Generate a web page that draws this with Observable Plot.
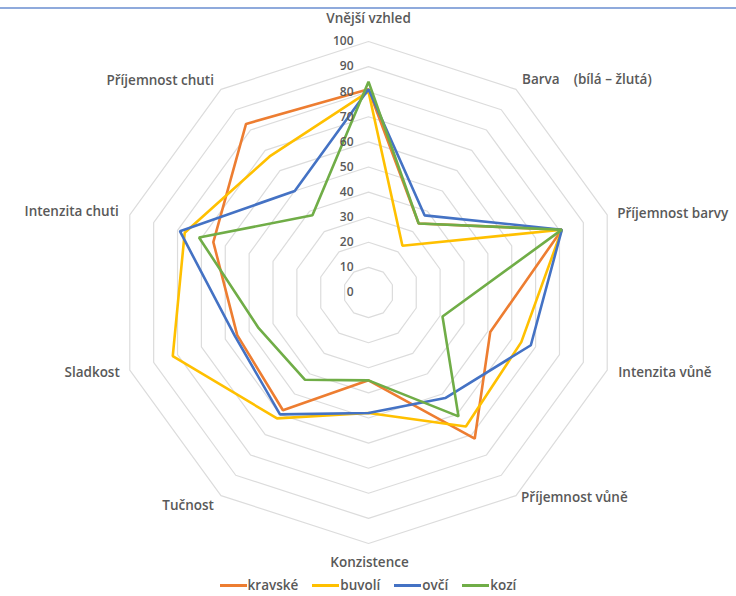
<!DOCTYPE html>
<html>
<head>
<meta charset="utf-8">
<script src="https://cdn.jsdelivr.net/npm/d3@7"></script>
<script src="https://cdn.jsdelivr.net/npm/@observablehq/plot@0.6"></script>
<style>
  html, body { margin: 0; padding: 0; background: #fff; }
  #wrap { position: relative; width: 736px; height: 596px; overflow: hidden; font-family: "Open Sans", Lato, sans-serif; }
  #topline { position: absolute; left: 0; top: 7px; width: 736px; height: 2px; background: #8faadc; }
  #chart { position: absolute; left: 0; top: 0; }
  #legend { position: absolute; left: 0; top: 576px; width: 736px; display: flex; justify-content: center; gap: 14px; font-size: 13.5px; font-weight: 600; color: #595959; line-height: 18px; }
  .item { display: flex; align-items: center; }
  .sw { width: 27px; height: 3px; margin-right: 1px; }
</style>
</head>
<body>
<div id="wrap">
  <div id="topline"></div>
  <div id="chart"></div>
  <div id="legend"></div>
</div>
<script>
// ---- data ----
const categories = ["Vnější vzhled","Barva","Příjemnost barvy","Intenzita vůně","Příjemnost vůně","Konzistence","Tučnost","Sladkost","Intenzita chuti","Příjemnost chuti"];
const categoryLabels = ["Vnější vzhled","Barva\u00a0\u00a0\u00a0\u00a0(bílá – žlutá)","Příjemnost barvy","Intenzita vůně","Příjemnost vůně","Konzistence","Tučnost","Sladkost","Intenzita chuti","Příjemnost chuti"];
const seriesNames = ["kravské","buvolí","ovčí","kozí"];
const seriesColors = ["#ED7D31","#FFC000","#4472C4","#70AD47"];
const kravske = [81, 34, 81, 51, 72, 35, 58, 55, 65, 83];
const buvoli  = [80, 23, 81, 64, 66, 48, 62, 82, 77, 67];
const ovci    = [81, 38, 81, 68, 52, 48, 60, 56, 79, 50];
const kozi    = [84, 34, 81, 31, 61, 35, 43, 46, 71, 38];
const tickValues = [0,10,20,30,40,50,60,70,80,90,100];

// ---- layout ----
const W = 736, H = 574;
const cx = 368, cy = 292, pxPerUnit = 2.51;
const n = categories.length;
const ang = i => i * 2 * Math.PI / n;
const polar = (i, r) => ({x: r * Math.sin(ang(i)), y: r * Math.cos(ang(i))});

const allSeries = [kravske, buvoli, ovci, kozi];
const seriesData = [];
allSeries.forEach((vals, s) => {
  vals.forEach((v, i) => seriesData.push({series: seriesNames[s], i, value: v, ...polar(i, v)}));
});

const rings = [];
tickValues.filter(t => t > 0).forEach(t => {
  for (let i = 0; i < n; i++) rings.push({level: t, ...polar(i, t)});
});

const ticks = tickValues.map(t => ({t, x: 0, y: t}));

// label offsets (pixels) relative to the outer vertex
const labelOffsets = [
  {dx: 0, dy: -23, anchor: "middle"},
  {dx: 6, dy: -10, anchor: "start"},
  {dx: 10, dy: -1, anchor: "start"},
  {dx: 11, dy: 3, anchor: "start"},
  {dx: 5, dy: 2, anchor: "start"},
  {dx: 1, dy: 19, anchor: "middle"},
  {dx: -7, dy: 10, anchor: "end"},
  {dx: -10, dy: 3, anchor: "end"},
  {dx: -11, dy: -3, anchor: "end"},
  {dx: -7, dy: -9, anchor: "end"}
];

const labelMarks = categoryLabels.map((lab, i) => {
  const o = labelOffsets[i];
  return Plot.text([{label: lab, ...polar(i, 100)}], {
    x: "x", y: "y", text: "label", dx: o.dx, dy: o.dy, textAnchor: o.anchor,
    fontSize: 13.5, fontWeight: 600, fill: "#595959"
  });
});

const chart = Plot.plot({
  width: W, height: H,
  margin: 0,
  style: {fontFamily: "'Open Sans', Lato, sans-serif", background: "transparent", overflow: "visible"},
  x: {domain: [-(cx) / pxPerUnit, (W - cx) / pxPerUnit], axis: null},
  y: {domain: [-(H - cy) / pxPerUnit, cy / pxPerUnit], axis: null},
  color: {domain: seriesNames, range: seriesColors},
  marks: [
    Plot.line(rings, {x: "x", y: "y", z: "level", curve: "linear-closed", stroke: "#dcdcdc", strokeWidth: 1.2}),
    Plot.line(seriesData, {x: "x", y: "y", z: "series", stroke: "series", curve: "linear-closed", strokeWidth: 2.6, strokeLinejoin: "miter"}),
    Plot.text(ticks, {x: "x", y: "y", text: d => String(d.t), dx: -15, textAnchor: "end", fontSize: 12, fontWeight: 600, fill: "#595959"}),
    ...labelMarks
  ]
});
document.getElementById("chart").appendChild(chart);

// legend
const leg = document.getElementById("legend");
seriesNames.forEach((name, s) => {
  const it = document.createElement("div");
  it.className = "item";
  const sw = document.createElement("span");
  sw.className = "sw";
  sw.style.background = seriesColors[s];
  const tx = document.createElement("span");
  tx.textContent = name;
  it.appendChild(sw); it.appendChild(tx);
  leg.appendChild(it);
});
</script>
</body>
</html>
